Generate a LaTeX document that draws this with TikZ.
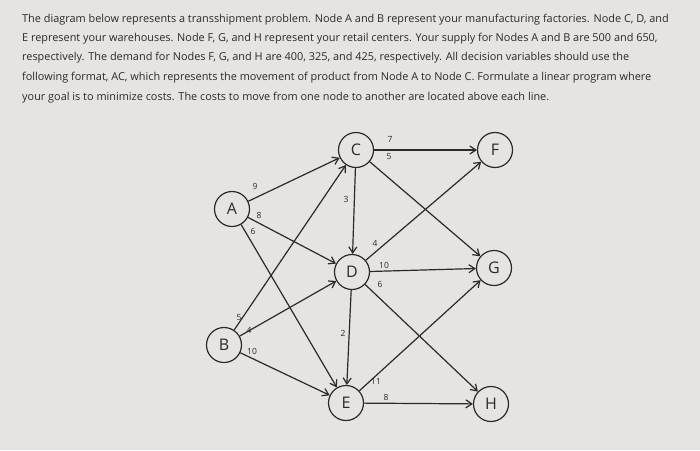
\documentclass[tikz,border=0pt]{standalone}
\usepackage{fontspec}
\setmainfont{Open Sans}
\usetikzlibrary{arrows.meta}
\definecolor{bg}{HTML}{E6E4E1}
\definecolor{ink}{HTML}{2A2A2A}
\begin{document}
\begin{tikzpicture}[x=1pt,y=-1pt,
  txt/.style={anchor=west,inner sep=0,font=\fontsize{10.9}{12}\selectfont,text=ink},
  nd/.style={circle,draw=ink,line width=1.2pt,minimum size=35pt,inner sep=0,font=\fontsize{16}{16}\selectfont,text=ink},
  ed/.style={draw=ink,line width=1.2pt,-{Straight Barb[length=6pt,width=8pt]}},
  lb/.style={font=\fontsize{8.5}{8.5}\selectfont,text=ink,inner sep=1pt}]
\fill[bg] (0,0) rectangle (700,450);
\useasboundingbox (0,0) rectangle (700,450);
\node[txt] (t1) at (22,20) {The diagram below represents a transshipment problem. Node A and B represent your manufacturing factories. Node C, D, and};
\node[txt] (t2) at (22,39) {E represent your warehouses. Node F, G, and H represent your retail centers. Your supply for Nodes A and B are 500 and 650,};
\node[txt] (t3) at (22,58) {respectively. The demand for Nodes F, G, and H are 400, 325, and 425, respectively. All decision variables should use the};
\node[txt] (t4) at (22,78) {following format, AC, which represents the movement of product from Node A to Node C. Formulate a linear program where};
\node[txt] (t5) at (22,98) {your goal is to minimize costs. The costs to move from one node to another are located above each line.};
\node[nd] (A) at (232,209) {A};
\node[nd] (C) at (356,150) {C};
\node[nd] (F) at (495,150) {F};
\node[nd] (D) at (352,272) {D};
\node[nd] (G) at (494,268) {G};
\node[nd] (B) at (224,345) {B};
\node[nd] (E) at (346,403) {E};
\node[nd] (H) at (491,404) {H};
\draw[ed] (A) -- (C);
\draw[ed] (A) -- (D);
\draw[ed] (A) -- (E);
\draw[ed] (B) -- (C);
\draw[ed] (B) -- (D);
\draw[ed] (B) -- (E);
\draw[ed] (C) -- (D);
\draw[ed] (C) -- (F);
\draw[ed] (C) -- (G);
\draw[ed] (D) -- (F);
\draw[ed] (D) -- (G);
\draw[ed] (D) -- (H);
\draw[ed] (D) -- (E);
\draw[ed] (E) -- (G);
\draw[ed] (E) -- (H);
\node[lb] (l1) at (255,186) {9};
\node[lb] (l2) at (259,215) {8};
\node[lb] (l3) at (253,231) {6};
\node[lb] (l4) at (239,318) {5};
\node[lb] (l5) at (249,330) {4};
\node[lb] (l6) at (252,351) {10};
\node[lb] (l7) at (346,199) {3};
\node[lb] (l8) at (390,139) {7};
\node[lb] (l9) at (389,157) {5};
\node[lb] (l10) at (375,243) {4};
\node[lb] (l11) at (384,265) {10};
\node[lb] (l12) at (380,284) {6};
\node[lb] (l13) at (343,333) {2};
\node[lb] (l14) at (376,381) {11};
\node[lb] (l15) at (386,397) {8};
\end{tikzpicture}
\end{document}
